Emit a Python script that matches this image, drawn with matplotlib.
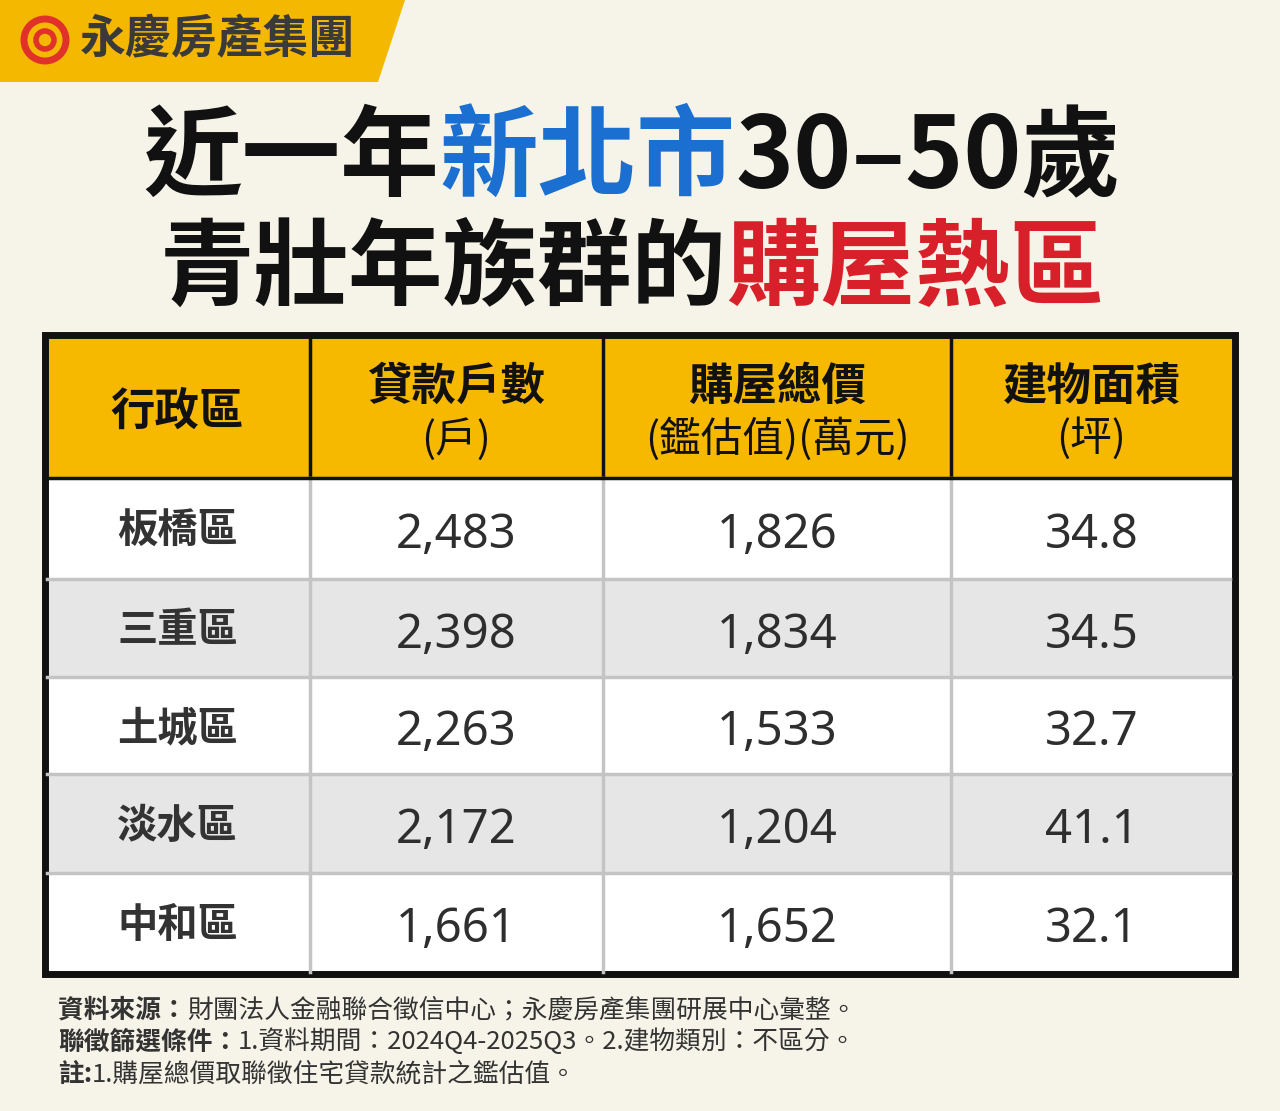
import matplotlib
matplotlib.use("Agg")
import matplotlib.pyplot as plt
from matplotlib.patches import Rectangle, Polygon, Circle

FAM = ['Noto Sans CJK TC', 'DejaVu Sans']
plt.rcParams['font.family'] = FAM

districts = ["板橋區", "三重區", "土城區", "淡水區", "中和區"]
loans = ["2,483", "2,398", "2,263", "2,172", "1,661"]
prices = ["1,826", "1,834", "1,533", "1,204", "1,652"]
areas = ["34.8", "34.5", "32.7", "41.1", "32.1"]
headers_top = ["行政區", "貸款戶數", "購屋總價", "建物面積"]
headers_sub = ["", "(戶)", "(鑑估值)(萬元)", "(坪)"]

W, H = 1280, 1111
fig = plt.figure(figsize=(W/100, H/100), dpi=100, facecolor="#f6f4e8")
ax = fig.add_axes([0, 0, 1, 1])
ax.set_xlim(0, W); ax.set_ylim(H, 0); ax.axis("off")

ax.add_patch(Polygon([(0, 0), (405, 0), (378, 82), (0, 82)], color="#f5b800", lw=0))
ax.add_patch(Circle((45, 40), 21, fc="none", ec="#e0322a", lw=5))
ax.add_patch(Circle((45, 40), 9, fc="none", ec="#e0322a", lw=4))
ax.text(80, 40, "永慶房產集團", fontsize=33, fontweight="bold", color="#3a3a3a", va="center")

fig.canvas.draw()
r = fig.canvas.get_renderer()

def rich(parts, cx, cy, size):
    ts = [ax.text(0, cy, s, color=c, fontsize=size, fontweight="bold", va="center") for s, c in parts]
    ws = [t.get_window_extent(r).width for t in ts]
    x = cx - sum(ws) / 2
    for t, w in zip(ts, ws):
        t.set_x(x); x += w

rich([("近一年", "#111111"), ("新北市", "#1a6fd0"), ("30–50歲", "#111111")], 632, 159, 71)
rich([("青壯年族群的", "#111111"), ("購屋熱區", "#d8202a")], 632, 270, 68)

cols = [45, 310, 603, 951, 1232]
rows = [478, 579, 677, 774, 873, 972]
ax.add_patch(Rectangle((45, 337), 1187, 141, color="#f7b900", lw=0))
for i in range(5):
    ax.add_patch(Rectangle((45, rows[i]), 1187, rows[i+1]-rows[i],
                           color="#ffffff" if i % 2 == 0 else "#e6e6e6", lw=0))
for y in rows[1:-1]:
    ax.plot([47, 1230], [y, y], color="#c4c4c4", lw=2.5)
for x in cols[1:-1]:
    ax.plot([x, x], [337, 478], color="#111111", lw=2.5)
    ax.plot([x, x], [478, 972], color="#c4c4c4", lw=2.5)
ax.plot([45, 1232], [478, 478], color="#111111", lw=2.5)
ax.add_patch(Rectangle((45, 335), 1190, 639, fc="none", ec="#111111", lw=5))

cxs = [(cols[i] + cols[i+1]) / 2 for i in range(4)]
for i in range(4):
    if headers_sub[i]:
        ax.text(cxs[i], 387, headers_top[i], ha="center", va="center", fontsize=32,
                fontweight="bold", color="#111111")
        ax.text(cxs[i], 439, headers_sub[i], ha="center", va="center", fontsize=30,
                color="#111111")
    else:
        ax.text(cxs[i], 412, headers_top[i], ha="center", va="center", fontsize=32,
                fontweight="bold", color="#111111")
for i in range(5):
    cy = (rows[i] + rows[i+1]) / 2
    ax.text(cxs[0], cy + 3, districts[i], ha="center", va="center", fontsize=29, fontweight="bold", color="#333333")
    for j, v in enumerate([loans[i], prices[i], areas[i]]):
        ax.text(cxs[j+1], cy + 7, v, ha="center", va="center", fontsize=34, color="#2e2e2e",
                family=['Noto Sans', 'DejaVu Sans'])

notes = [("資料來源：", "財團法人金融聯合徵信中心；永慶房產集團研展中心彙整。"),
         ("聯徵篩選條件：", "1.資料期間：2024Q4-2025Q3。2.建物類別：不區分。"),
         ("註:", "1.購屋總價取聯徵住宅貸款統計之鑑估值。")]
for k, (b, n) in enumerate(notes):
    y = 1010 + 32 * k
    t = ax.text(58, y, b, fontsize=18.5, fontweight="bold", color="#333333", va="center")
    w = t.get_window_extent(r).width
    ax.text(58 + w, y, n, fontsize=18.5, color="#333333", va="center")

fig.savefig("out.png", dpi=100, facecolor=fig.get_facecolor())
